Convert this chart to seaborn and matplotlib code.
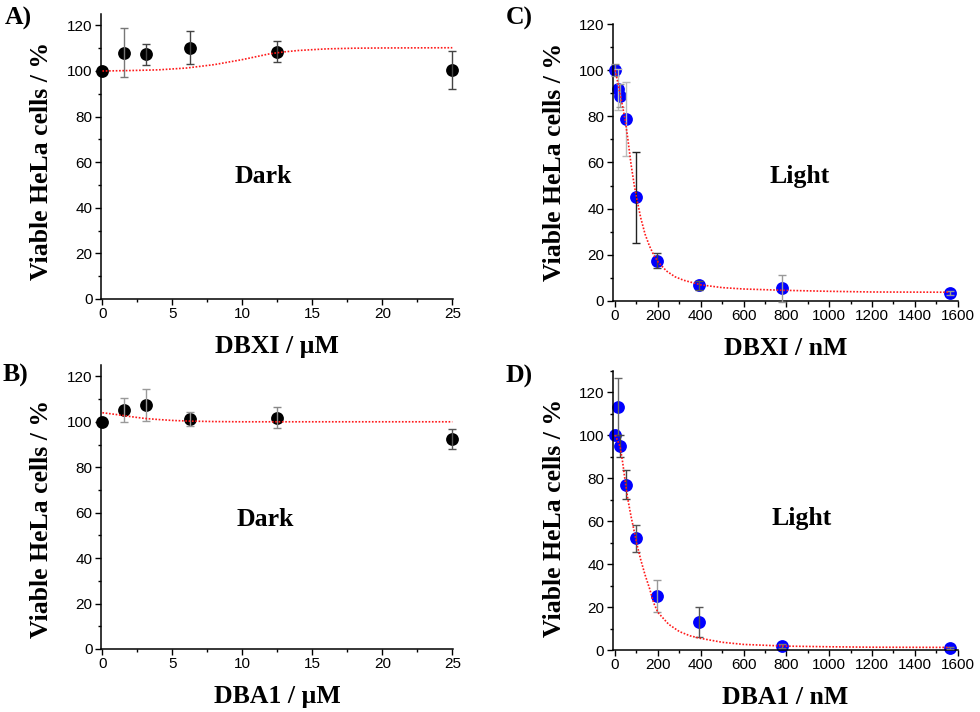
import numpy as np
import pandas as pd
import seaborn as sns
import matplotlib.pyplot as plt
from matplotlib.ticker import MultipleLocator

# ---- data ----
conc_um = [0, 1.5625, 3.125, 6.25, 12.5, 25]
conc_nm = [0, 12.2, 24.4, 48.8, 97.7, 195.3, 390.6, 781.25, 1562.5]

# A) DBXI dark
dbxi_dark = [100, 108.1, 107.3, 110.2, 108.4, 100.5]
dbxi_dark_err = [0, 10.8, 4.6, 7.3, 4.6, 8.2]
dbxi_dark_fit_x = [0, 2, 4, 6, 8, 10, 12, 13, 14, 16, 18, 20, 25]
dbxi_dark_fit_y = [100, 100.2, 100.5, 101.3, 102.8, 105, 107.6, 108.4, 109, 109.7, 110, 110.1, 110.2]

# B) DBA1 dark
dba1_dark = [100, 105.2, 107.4, 101.1, 101.7, 92.3]
dba1_dark_err = [0, 5.4, 7.0, 3.0, 4.6, 4.4]
dba1_dark_fit_x = [0, 1, 2, 3, 4, 5, 6.25, 8, 10, 15, 25]
dba1_dark_fit_y = [104, 103.2, 102.3, 101.5, 101, 100.6, 100.3, 100.1, 100, 100, 100]

# C) DBXI light
dbxi_light = [100, 91.7, 89, 78.8, 44.9, 17.5, 6.8, 5.5, 3.5]
dbxi_light_err = [2.5, 9, 5, 16, 19.7, 3.3, 2, 5.8, 1]
dbxi_light_fit_x = [0, 12, 24, 36, 48, 60, 75, 90, 100, 120, 140, 160, 180, 200,
                    240, 280, 320, 400, 500, 600, 800, 1000, 1200, 1562]
dbxi_light_fit_y = [100, 95, 89.5, 84, 78, 70, 59, 50, 45, 36, 29, 24, 20, 17,
                    13, 10.5, 9, 7, 5.8, 5.2, 4.6, 4.2, 3.9, 3.8]

# D) DBA1 light
dba1_light = [100, 113.2, 95, 77, 52, 25.1, 12.9, 2, 1.1]
dba1_light_err = [0, 13.3, 5, 6.8, 6.4, 7.6, 7, 1, 0.5]
dba1_light_fit_x = [0, 12, 24, 36, 48, 60, 75, 90, 100, 120, 140, 160, 180, 200,
                    250, 300, 350, 400, 500, 600, 800, 1000, 1200, 1562]
dba1_light_fit_y = [100, 97.5, 94.5, 87, 78, 70, 62, 55, 50, 42, 35, 29, 22, 17.5,
                    12, 8.6, 6.6, 5.4, 3.6, 2.6, 1.8, 1.5, 1.3, 1.2]

# error bar shades (they differ point to point in the original)
err_col_a = ['#444444', '#777777', '#444444', '#444444', '#444444', '#444444']
err_col_b = ['#444444', '#999999', '#999999', '#999999', '#888888', '#555555']
err_col_c = ['#888888', '#bbbbbb', '#999999', '#bbbbbb', '#222222', '#444444', '#555555', '#999999', '#999999']
err_col_d = ['#444444', '#666666', '#444444', '#444444', '#555555', '#999999', '#555555', '#777777', '#777777']

sns.set_theme(style="ticks")
plt.rcParams['font.family'] = ['Liberation Sans', 'DejaVu Sans']
plt.rcParams['text.color'] = 'black'
plt.rcParams['axes.labelcolor'] = 'black'

SERIF = ['Liberation Serif', 'DejaVu Serif']
LABEL_SIZE = 18.5


def draw_panel(ax, x, y, err, err_colors, fit_x, fit_y, color, xlim, ylim,
               xmaj, ylabel_y, xlabel, note, note_xy):
    df = pd.DataFrame({'conc': x, 'viab': y})
    fit = pd.DataFrame({'conc': fit_x, 'viab': fit_y})

    sns.scatterplot(data=df, x='conc', y='viab', ax=ax, color=color, s=85,
                    linewidth=0, zorder=2, clip_on=False)
    for xi, yi, ei, ci in zip(x, y, err, err_colors):
        if ei > 0:
            ax.errorbar(xi, yi, yerr=ei, fmt='none', ecolor=ci, elinewidth=1.0,
                        capsize=3, capthick=1.0, zorder=3, clip_on=False)
    sns.lineplot(data=fit, x='conc', y='viab', ax=ax, color='#ff1a1a',
                 linestyle=(0, (1, 1)), linewidth=1.2, zorder=4)

    ax.set_xlim(*xlim)
    ax.set_ylim(*ylim)
    ax.xaxis.set_major_locator(MultipleLocator(xmaj))
    ax.xaxis.set_minor_locator(MultipleLocator(xmaj / 2))
    ax.yaxis.set_major_locator(MultipleLocator(20))
    ax.yaxis.set_minor_locator(MultipleLocator(10))
    ax.set_yticks(np.arange(0, 121, 20))

    ax.tick_params(which='major', direction='out', length=4, width=1.0,
                   labelsize=11, colors='black', pad=2)
    ax.tick_params(which='minor', direction='out', length=2.5, width=1.0, colors='black')
    sns.despine(ax=ax)
    for s in ['left', 'bottom']:
        ax.spines[s].set_linewidth(1.1)
        ax.spines[s].set_color('black')

    ax.set_xlabel(xlabel, family=SERIF, fontsize=LABEL_SIZE, fontweight='bold', labelpad=10)
    ax.set_ylabel('Viable HeLa cells / %', family=SERIF, fontsize=LABEL_SIZE,
                  fontweight='bold')
    ax.yaxis.set_label_coords(-0.135, ylabel_y)
    ax.text(note_xy[0], note_xy[1], note, family=SERIF, fontsize=LABEL_SIZE,
            fontweight='bold', ha='center', va='baseline')


fig = plt.figure(figsize=(9.8, 7.12), dpi=100)
W, H = 980, 712
axA = fig.add_axes([101 / W, (H - 299) / H, 352 / W, 285 / H])
axB = fig.add_axes([101 / W, (H - 649) / H, 352 / W, 284 / H])
axC = fig.add_axes([612.7 / W, (H - 301) / H, 345.6 / W, 277 / H])
axD = fig.add_axes([612.7 / W, (H - 650) / H, 345.6 / W, 279.3 / H])

draw_panel(axA, conc_um, dbxi_dark, dbxi_dark_err, err_col_a, dbxi_dark_fit_x, dbxi_dark_fit_y,
           'black', (-0.1, 25.05), (0, 125), 5, 0.484, 'DBXI / µM', 'Dark', (11.5, 51))
draw_panel(axB, conc_um, dba1_dark, dba1_dark_err, err_col_b, dba1_dark_fit_x, dba1_dark_fit_y,
           'black', (-0.1, 25.05), (0, 125), 5, 0.458, 'DBA1 / µM', 'Dark', (11.6, 54))
draw_panel(axC, conc_nm, dbxi_light, dbxi_light_err, err_col_c, dbxi_light_fit_x, dbxi_light_fit_y,
           '#0000ff', (-11, 1603), (0, 120), 200, 0.502, 'DBXI / nM', 'Light', (864, 51))
draw_panel(axD, conc_nm, dba1_light, dba1_light_err, err_col_d, dba1_light_fit_x, dba1_light_fit_y,
           '#0000ff', (-11, 1603), (0, 130), 200, 0.473, 'DBA1 / nM', 'Light', (870, 58))

for lab, px, py in [('A)', 5, 25), ('C)', 506, 25), ('B)', 3, 382), ('D)', 506, 383)]:
    fig.text(px / W, 1 - py / H, lab, family=SERIF, fontsize=LABEL_SIZE,
             fontweight='bold', ha='left', va='baseline')

fig.savefig('out.png', dpi=100)
